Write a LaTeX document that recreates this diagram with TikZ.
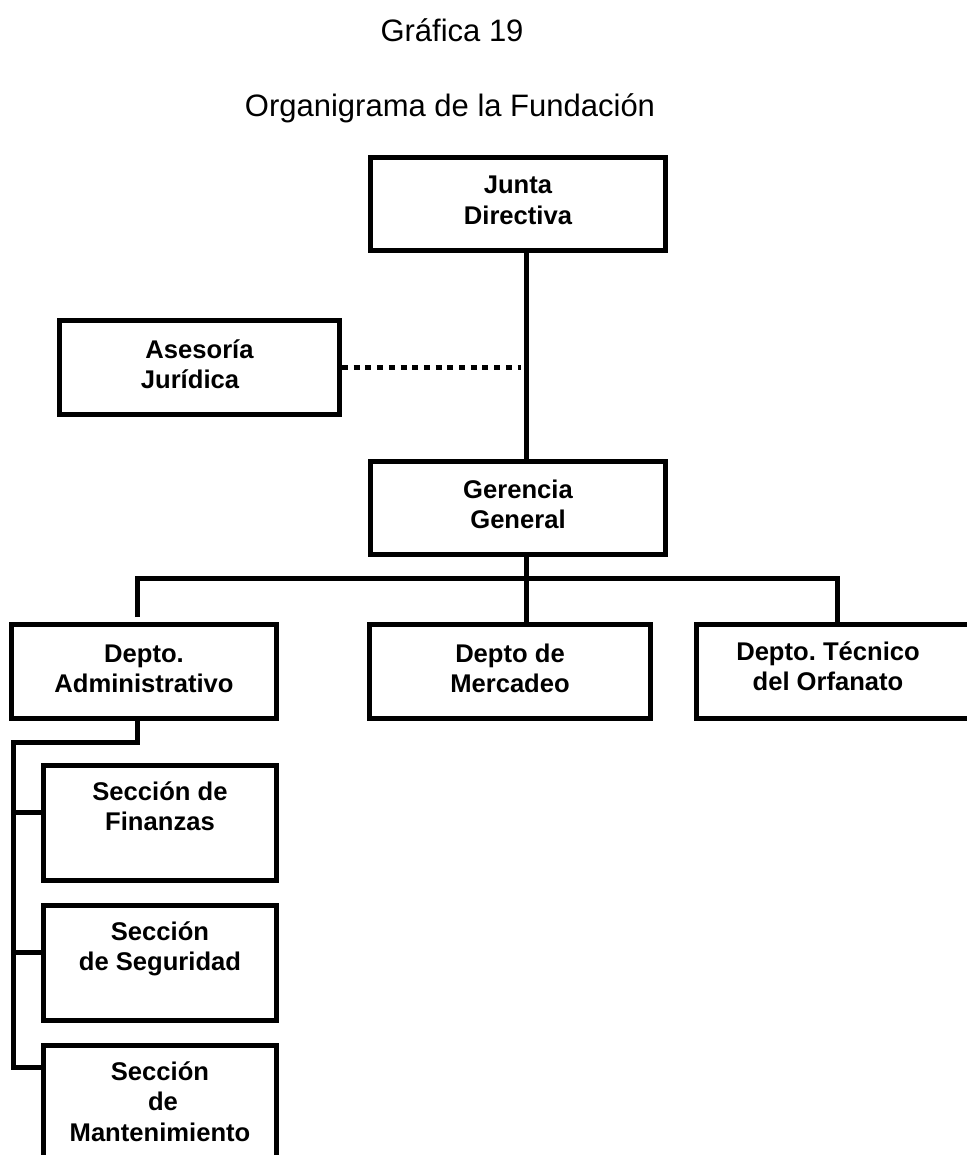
\documentclass[tikz,border=0pt]{standalone}
\usepackage{fontspec}
\setmainfont{Liberation Sans}
\frenchspacing
\begin{document}
\begin{tikzpicture}[x=1pt,y=-1pt,
  orgbox/.style={draw, line width=5pt, inner sep=0pt, outer sep=2.5pt, align=center,
    anchor=north west, font=\bfseries\fontsize{25.6}{30.5}\selectfont},
  conn/.style={line width=5pt},
  dotconn/.style={line width=5pt, dash pattern=on 6pt off 5.7pt},
  titletext/.style={anchor=base, inner sep=0pt, font=\fontsize{31}{37}\selectfont}]
\useasboundingbox (0,0) rectangle (966,1155);
\fill[white] (0,0) rectangle (966,1155);

% titles
\node[titletext] (t1) at (452,42) {Gráfica 19};
\node[titletext] (t2) at (450,117) {Organigrama de la Fundación};

% boxes
\node[orgbox, minimum width=295pt, minimum height=93pt, text height=67pt, text depth=26pt]
  (jun) at (368,155) {Junta\\Directiva};
\node[orgbox, minimum width=280pt, minimum height=94pt, text height=68pt, text depth=26pt]
  (ase) at (57,318) {Asesoría\\Jurídica\hspace*{19pt}};
\node[orgbox, minimum width=295pt, minimum height=93pt, text height=67pt, text depth=26pt]
  (ger) at (368,459) {Gerencia\\General};
\node[orgbox, minimum width=265pt, minimum height=94pt, text height=68pt, text depth=26pt]
  (adm) at (9,622) {Depto.\\Administrativo};
\node[orgbox, minimum width=281pt, minimum height=94pt, text height=68pt, text depth=26pt]
  (mer) at (367,622) {Depto de\\Mercadeo};
\node[orgbox, draw=none, outer sep=0pt, minimum width=263pt, minimum height=94pt,
  text height=66pt, text depth=28pt]
  (tec) at (696.5,624.5) {Depto. Técnico\\del Orfanato};
\draw[conn] ([xshift=40pt]tec.north east) -- (tec.north west) -- (tec.south west) -- ([xshift=40pt]tec.south east);
\node[orgbox, minimum width=233pt, minimum height=115pt, text height=65pt, text depth=50pt]
  (fin) at (41,763) {Sección de\\Finanzas};
\node[orgbox, minimum width=233pt, minimum height=115pt, text height=65pt, text depth=50pt]
  (seg) at (41,903) {Sección\\de Seguridad};
\node[orgbox, minimum width=233pt, minimum height=145pt, text height=95.5pt, text depth=49.5pt]
  (man) at (41,1043) {Sección\\\hspace*{6pt}de\\Mantenimiento};

% connector coordinates
\coordinate (sp) at (526,0);
\coordinate (dotend) at (521,367.5);
\coordinate (busL) at (137,578.5);
\coordinate (busR) at (837,578.5);
\coordinate (subtop) at (13.5,742);
\coordinate (subbot) at (13.5,1067);
\coordinate (brfin) at (13.5,812);
\coordinate (brseg) at (13.5,952);

% connectors
\draw[conn] (jun.south -| sp) -- (ger.north -| sp);
\draw[dotconn] (ase.east) -- (dotend);
\draw[conn] (ger.south -| sp) -- (mer.north -| sp);
\draw[conn] ([yshift=5pt]adm.north -| busL) |- (busR) -- (tec.north -| busR);
\draw[conn] (adm.south -| busL) |- (subtop) -- (subbot) -- (man.west |- subbot);
\draw[conn] (brfin) -- (fin.west |- brfin);
\draw[conn] (brseg) -- (seg.west |- brseg);
\end{tikzpicture}
\end{document}
